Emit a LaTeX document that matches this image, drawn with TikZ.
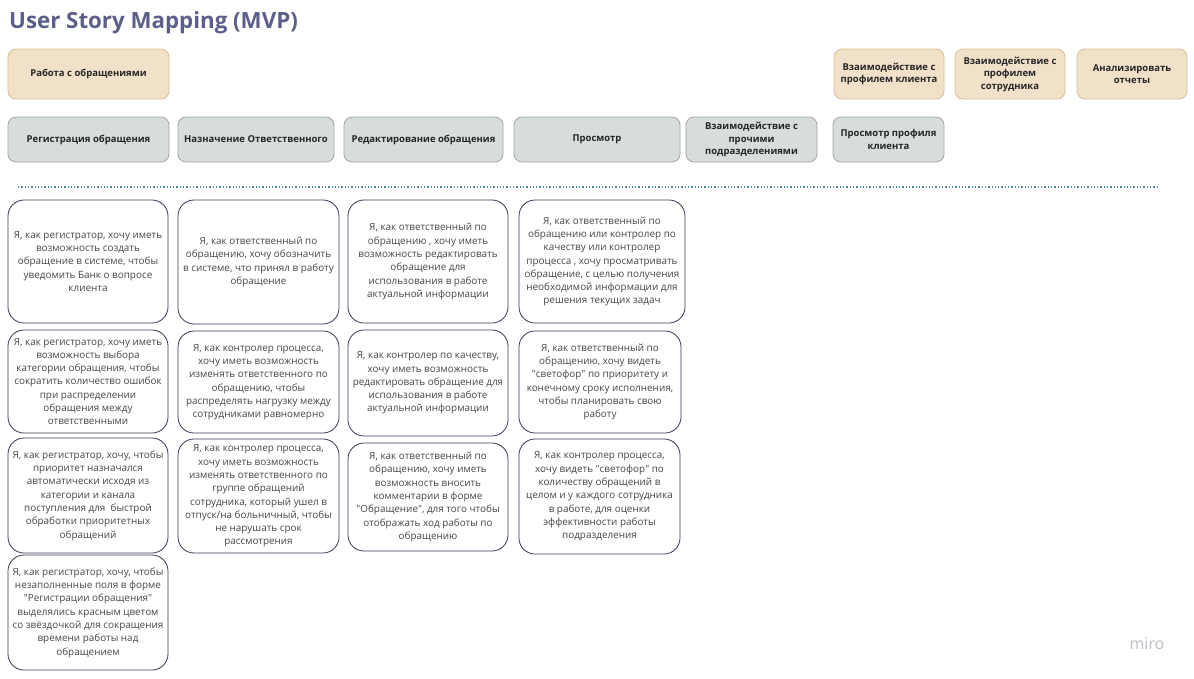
\documentclass[tikz,border=0pt]{standalone}
\usepackage{fontspec}
\setmainfont{Open Sans}
\usepackage{tikz}
\usetikzlibrary{positioning}
\definecolor{titlecol}{RGB}{92,95,138}
\definecolor{epicfill}{RGB}{242,225,201}
\definecolor{epicdraw}{RGB}{214,190,150}
\definecolor{actfill}{RGB}{214,221,218}
\definecolor{actdraw}{RGB}{160,167,165}
\definecolor{storydraw}{RGB}{60,56,84}
\definecolor{dotcol}{RGB}{80,132,158}
\definecolor{mirocol}{RGB}{190,190,198}
\newcommand{\dq}{\textquotedbl{}}
\tikzstyle{box}=[rectangle,outer sep=0,inner sep=2,anchor=north west,align=center,line width=0.8]
\tikzstyle{epic}=[box,rounded corners=8,fill=epicfill,draw=epicdraw,text=black!85,font=\bfseries\fontsize{9.5}{12.5}\selectfont]
\tikzstyle{activity}=[box,rounded corners=8,fill=actfill,draw=actdraw,text=black!85,font=\bfseries\fontsize{9.5}{12.5}\selectfont]
\tikzstyle{story}=[box,rounded corners=16,fill=white,draw=storydraw,text=black!72,font=\fontsize{9.9}{13.3}\selectfont]

\begin{document}
\begin{tikzpicture}[x=1pt,y=-1pt]
	\useasboundingbox[fill=white] (0,0) rectangle (1194,678);
	\node[anchor=base west,text=titlecol,font=\bfseries\fontsize{22.3}{24}\selectfont,inner sep=0] (title) at (9,28) {User Story Mapping (MVP)};

	% epics
	\node[epic,minimum width=161,minimum height=50] (obr) at (8,49) {Работа с обращениями};
	\node[epic,minimum width=110,minimum height=50] (profkl) at (834,49) {Взаимодействие с\\профилем клиента};
	\node[epic,minimum width=110,minimum height=50] (profsotr) at (955,49) {Взаимодействие с\\профилем\\сотрудника};
	\node[epic,minimum width=110,minimum height=50] (otchet) at (1077,49) {Анализировать\\отчеты};

	% activities
	\node[activity,minimum width=161,minimum height=45] (reg) at (8,117) {Регистрация обращения};
	\node[activity,minimum width=156,minimum height=45] (naz) at (178,117) {Назначение Ответственного};
	\node[activity,minimum width=159,minimum height=45] (red) at (344,117) {Редактирование обращения};
	\node[activity,minimum width=166,minimum height=45] (prosm) at (514,117) {Просмотр};
	\node[activity,minimum width=131,minimum height=45] (vzaim) at (686,117) {Взаимодействие с\\прочими\\подразделениями};
	\node[activity,minimum width=111,minimum height=45] (prosmkl) at (833,117) {Просмотр профиля\\клиента};

	\coordinate (linel) at (18,187);
	\coordinate (liner) at (1158,187);
	\draw[dotcol,dotted,line width=1.3] (linel) -- (liner);

	% stories: registration
	\node[story,minimum width=160,minimum height=123] (reg1) at (8,200) {Я, как регистратор, хочу иметь\\возможность создать\\обращение в системе, чтобы\\уведомить Банк о вопросе\\клиента};
	\node[story,minimum width=160,minimum height=103] (reg2) at (8,330) {Я, как регистратор, хочу иметь\\возможность выбора\\категории обращения, чтобы\\сократить количество ошибок\\при распределении\\обращения между\\ответственными};
	\node[story,minimum width=160,minimum height=115] (reg3) at (8,438) {Я, как регистратор, хочу, чтобы\\приоритет назначался\\автоматически исходя из\\категории и канала\\поступления для~ быстрой\\обработки приоритетных\\обращений};
	\node[story,minimum width=160,minimum height=115] (reg4) at (8,555) {Я, как регистратор, хочу, чтобы\\незаполненные поля в форме\\\dq Регистрации обращения\dq\\выделялись красным цветом\\со звёздочкой для сокращения\\времени работы над\\обращением};

	% stories: assignment
	\node[story,minimum width=161,minimum height=124] (naz1) at (178,200) {Я, как ответственный по\\обращению, хочу обозначить\\в системе, что принял в работу\\обращение};
	\node[story,minimum width=161,minimum height=102] (naz2) at (178,331) {Я, как контролер процесса,\\хочу иметь возможность\\изменять ответственного по\\обращению, чтобы\\распределять нагрузку между\\сотрудниками равномерно};
	\node[story,minimum width=161,minimum height=114] (naz3) at (178,439) {Я, как контролер процесса,\\хочу иметь возможность\\изменять ответственного по\\группе обращений\\сотрудника, который ушел в\\отпуск/на больничный, чтобы\\не нарушать срок\\рассмотрения};

	% stories: editing
	\node[story,minimum width=160,minimum height=123] (red1) at (348,200) {Я, как ответственный по\\обращению , хочу иметь\\возможность редактировать\\обращение для\\использования в работе\\актуальной информации};
	\node[story,minimum width=160,minimum height=106] (red2) at (348,330) {Я, как контролер по качеству,\\хочу иметь возможность\\редактировать обращение для\\использования в работе\\актуальной информации};
	\node[story,minimum width=160,minimum height=108] (red3) at (348,443) {Я, как ответственный по\\обращению, хочу иметь\\возможность вносить\\комментарии в форме\\\dq Обращение\dq, для того чтобы\\отображать ход работы по\\обращению};

	% stories: viewing
	\node[story,minimum width=166,minimum height=123] (prosm1) at (519,200) {Я, как ответственный по\\обращению или контролер по\\качеству или контролер\\процесса , хочу просматривать\\обращение, с целью получения\\необходимой информации для\\решения текущих задач};
	\node[story,minimum width=162,minimum height=102] (prosm2) at (519,331) {Я, как ответственный по\\обращению, хочу видеть\\\dq светофор\dq{} по приоритету и\\конечному сроку исполнения,\\чтобы планировать свою\\работу};
	\node[story,minimum width=161,minimum height=115] (prosm3) at (519,439) {Я, как контролер процесса,\\хочу видеть \dq светофор\dq{} по\\количеству обращений в\\целом и у каждого сотрудника\\в работе, для оценки\\эффективности работы\\подразделения};

	\node[text=mirocol,font=\fontsize{16}{16}\selectfont,inner sep=0] (miro) at (1147,644) {miro};
\end{tikzpicture}
\end{document}
